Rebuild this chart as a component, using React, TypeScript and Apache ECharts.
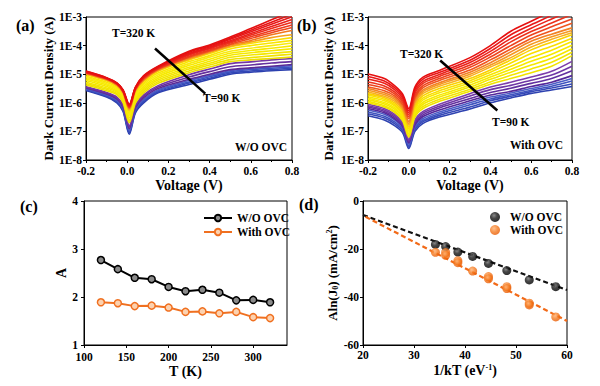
import React, { useEffect, useRef } from "react";
import * as echarts from "echarts";

// ---------- Panel (a)/(b): dark current density vs voltage (log10 of A) ----------
const TEMPS = [90, 100, 110, 120, 130, 140, 150, 160, 170, 180, 190, 200, 210, 220, 230, 240, 250, 260, 270, 280, 290, 300, 310, 320];

const VA = [-0.2, -0.1, -0.05, -0.02, 0.01, 0.04, 0.08, 0.15, 0.3, 0.4, 0.5, 0.6, 0.7, 0.8];
// rows: voltage, columns: curves from 90 K to 320 K (log10 of current density)
const A_LOG = [
  [-5.57, -5.55, -5.53, -5.51, -5.48, -5.46, -5.44, -5.38, -5.33, -5.28, -5.22, -5.17, -5.12, -5.07, -5.02, -4.99, -4.97, -4.96, -4.95, -4.94, -4.93, -4.92, -4.90, -4.89],
  [-5.80, -5.77, -5.75, -5.72, -5.69, -5.67, -5.64, -5.58, -5.53, -5.48, -5.43, -5.38, -5.33, -5.28, -5.23, -5.20, -5.18, -5.17, -5.16, -5.15, -5.14, -5.14, -5.13, -5.12],
  [-6.00, -5.97, -5.93, -5.90, -5.86, -5.83, -5.80, -5.72, -5.68, -5.63, -5.59, -5.55, -5.51, -5.46, -5.42, -5.39, -5.37, -5.35, -5.34, -5.33, -5.32, -5.32, -5.31, -5.30],
  [-6.30, -6.27, -6.23, -6.20, -6.15, -6.12, -6.08, -6.00, -5.95, -5.91, -5.86, -5.82, -5.77, -5.73, -5.68, -5.65, -5.63, -5.61, -5.60, -5.59, -5.58, -5.57, -5.56, -5.55],
  [-7.10, -7.05, -7.00, -6.95, -6.90, -6.85, -6.80, -6.70, -6.64, -6.59, -6.53, -6.47, -6.41, -6.36, -6.30, -6.25, -6.20, -6.17, -6.15, -6.13, -6.11, -6.09, -6.07, -6.05],
  [-6.35, -6.31, -6.26, -6.22, -6.17, -6.13, -6.08, -6.00, -5.95, -5.89, -5.84, -5.78, -5.73, -5.67, -5.62, -5.58, -5.55, -5.53, -5.52, -5.50, -5.49, -5.48, -5.46, -5.45],
  [-6.00, -5.96, -5.92, -5.88, -5.82, -5.77, -5.72, -5.65, -5.59, -5.54, -5.48, -5.42, -5.36, -5.31, -5.25, -5.22, -5.19, -5.16, -5.14, -5.12, -5.10, -5.09, -5.07, -5.05],
  [-5.65, -5.62, -5.58, -5.55, -5.50, -5.45, -5.40, -5.32, -5.26, -5.20, -5.14, -5.08, -5.02, -4.96, -4.90, -4.87, -4.84, -4.82, -4.80, -4.79, -4.77, -4.75, -4.74, -4.72],
  [-5.36, -5.31, -5.27, -5.22, -5.18, -5.10, -5.02, -4.95, -4.89, -4.82, -4.76, -4.69, -4.63, -4.56, -4.50, -4.47, -4.43, -4.40, -4.37, -4.33, -4.30, -4.27, -4.23, -4.20],
  [-5.18, -5.14, -5.09, -5.05, -5.00, -4.91, -4.82, -4.75, -4.68, -4.62, -4.55, -4.48, -4.41, -4.35, -4.28, -4.24, -4.21, -4.18, -4.15, -4.11, -4.08, -4.05, -4.01, -3.98],
  [-5.00, -4.96, -4.92, -4.88, -4.84, -4.74, -4.63, -4.56, -4.49, -4.41, -4.34, -4.27, -4.20, -4.12, -4.05, -4.02, -3.98, -3.95, -3.91, -3.87, -3.83, -3.78, -3.74, -3.70],
  [-4.93, -4.89, -4.84, -4.80, -4.78, -4.68, -4.57, -4.50, -4.42, -4.33, -4.25, -4.17, -4.09, -4.00, -3.92, -3.87, -3.82, -3.75, -3.69, -3.63, -3.58, -3.52, -3.46, -3.40],
  [-4.88, -4.84, -4.79, -4.75, -4.72, -4.61, -4.50, -4.45, -4.36, -4.27, -4.18, -4.09, -4.00, -3.91, -3.82, -3.72, -3.62, -3.55, -3.48, -3.40, -3.33, -3.25, -3.18, -3.10],
  [-4.84, -4.79, -4.75, -4.70, -4.66, -4.56, -4.45, -4.40, -4.30, -4.21, -4.11, -4.01, -3.91, -3.82, -3.72, -3.62, -3.47, -3.37, -3.28, -3.18, -3.09, -2.99, -2.90, -2.80],
];
const A_COLORS = [
  "#2b3fae", "#3347b6", "#3b50be", "#4a5cc6",
  "#5a2b96", "#66309e", "#7436a6",
  "#ecdf00", "#f0e300", "#f3e600", "#f5e800", "#f7ea00", "#f8ea10", "#f9e600", "#fadd00",
  "#f6a21c", "#f2781e",
  "#f04a1e", "#ee3a1e", "#ec2c1c", "#ea201a", "#e81818", "#e61414", "#e41010",
];

const VB = [-0.2, -0.12, -0.07, -0.03, 0, 0.03, 0.07, 0.15, 0.3, 0.4, 0.5, 0.6, 0.7, 0.8];
const B_LOG = [
  [-6.45, -6.38, -6.32, -6.25, -6.20, -6.15, -6.10, -6.05, -6.00, -5.95, -5.89, -5.84, -5.79, -5.73, -5.68, -5.62, -5.56, -5.50, -5.45, -5.36, -5.27, -5.17, -5.08, -4.99],
  [-6.60, -6.53, -6.47, -6.40, -6.35, -6.30, -6.25, -6.20, -6.15, -6.10, -6.04, -5.99, -5.93, -5.88, -5.82, -5.77, -5.71, -5.65, -5.58, -5.49, -5.41, -5.32, -5.24, -5.15],
  [-6.80, -6.73, -6.67, -6.60, -6.55, -6.50, -6.45, -6.40, -6.33, -6.28, -6.22, -6.17, -6.11, -6.06, -6.00, -5.94, -5.88, -5.82, -5.76, -5.69, -5.62, -5.54, -5.47, -5.40],
  [-7.05, -6.99, -6.94, -6.88, -6.83, -6.79, -6.74, -6.70, -6.63, -6.58, -6.52, -6.47, -6.41, -6.36, -6.30, -6.24, -6.19, -6.13, -6.06, -5.99, -5.92, -5.84, -5.77, -5.70],
  [-7.60, -7.55, -7.50, -7.45, -7.40, -7.36, -7.32, -7.28, -7.20, -7.14, -7.08, -7.03, -6.97, -6.91, -6.85, -6.78, -6.72, -6.65, -6.55, -6.48, -6.41, -6.34, -6.27, -6.20],
  [-7.00, -6.94, -6.88, -6.82, -6.76, -6.71, -6.65, -6.60, -6.50, -6.43, -6.37, -6.30, -6.23, -6.17, -6.10, -6.02, -5.96, -5.90, -5.82, -5.75, -5.67, -5.60, -5.52, -5.45],
  [-6.72, -6.66, -6.61, -6.55, -6.48, -6.42, -6.36, -6.30, -6.20, -6.13, -6.05, -5.98, -5.90, -5.83, -5.75, -5.67, -5.61, -5.55, -5.47, -5.40, -5.32, -5.25, -5.17, -5.10],
  [-6.50, -6.44, -6.38, -6.32, -6.25, -6.18, -6.12, -6.05, -5.95, -5.88, -5.80, -5.73, -5.65, -5.58, -5.50, -5.42, -5.36, -5.30, -5.22, -5.15, -5.08, -5.01, -4.94, -4.87],
  [-6.22, -6.15, -6.07, -6.00, -5.93, -5.85, -5.76, -5.68, -5.60, -5.53, -5.45, -5.38, -5.30, -5.23, -5.15, -5.07, -5.00, -4.93, -4.85, -4.76, -4.68, -4.59, -4.51, -4.42],
  [-6.00, -5.93, -5.87, -5.80, -5.73, -5.64, -5.54, -5.45, -5.35, -5.27, -5.18, -5.10, -5.02, -4.93, -4.85, -4.75, -4.68, -4.60, -4.50, -4.40, -4.30, -4.20, -4.10, -4.00],
  [-5.83, -5.77, -5.72, -5.66, -5.60, -5.49, -5.39, -5.28, -5.15, -5.04, -4.93, -4.83, -4.72, -4.61, -4.50, -4.42, -4.32, -4.22, -4.12, -4.00, -3.87, -3.75, -3.62, -3.50],
  [-5.67, -5.61, -5.56, -5.50, -5.43, -5.32, -5.21, -5.10, -4.95, -4.82, -4.68, -4.55, -4.42, -4.28, -4.15, -4.05, -3.95, -3.85, -3.75, -3.63, -3.51, -3.39, -3.27, -3.15],
  [-5.55, -5.48, -5.42, -5.35, -5.28, -5.15, -5.03, -4.90, -4.72, -4.58, -4.44, -4.30, -4.16, -4.02, -3.88, -3.78, -3.69, -3.60, -3.48, -3.34, -3.21, -3.07, -2.94, -2.80],
  [-5.43, -5.34, -5.24, -5.15, -5.05, -4.88, -4.72, -4.55, -4.35, -4.23, -4.11, -3.99, -3.86, -3.74, -3.62, -3.55, -3.47, -3.38, -3.22, -3.07, -2.91, -2.76, -2.60, -2.45],
];
const B_COLORS = [
  "#2e42b0", "#3649b8", "#3f53bf", "#4b5dc6",
  "#55289a", "#62309f", "#6f37a5", "#7c3eab",
  "#f0e200", "#f3e600", "#f5e800", "#f7ea00", "#f8e700", "#f9df00", "#fad200",
  "#f8b020", "#f59a22", "#f28224",
  "#f0561e", "#ee441e", "#ec321c", "#ea221a", "#e81818", "#e61010",
];

// arrows (data coordinates): start, end
const A_ARROW = [[0.135, 7.9e-5], [0.379, 2.1e-6]];
const B_ARROW = [[0.154, 3.0e-5], [0.434, 5.4e-7]];

// ---------- Panel (c): ideality factor A vs T ----------
const C_T = [120, 140, 160, 180, 200, 220, 240, 260, 280, 300, 320];
const C_WO = [2.77, 2.58, 2.40, 2.37, 2.21, 2.12, 2.15, 2.09, 1.93, 1.94, 1.89];
const C_WITH = [1.89, 1.87, 1.81, 1.82, 1.78, 1.69, 1.70, 1.66, 1.69, 1.58, 1.56];

// ---------- Panel (d): A ln(J0) vs 1/kT ----------
const D_X_WO = [34.2, 36.2, 38.6, 41.5, 44.6, 48.2, 52.6, 57.8];
const D_Y_WO = [-18.1, -19.0, -21.3, -23.1, -26.0, -29.0, -32.9, -35.7];
const D_X_WITH = [34.2, 36.2, 36.2, 38.6, 38.6, 41.5, 44.6, 44.6, 48.2, 48.2, 52.6, 52.6, 57.8];
const D_Y_WITH = [-21.4, -21.5, -22.6, -24.9, -25.7, -29.2, -31.5, -32.4, -35.7, -36.5, -42.6, -43.3, -48.3];
const D_FIT_WO_X = [20, 60];
const D_FIT_WO_Y = [-5.8, -37.1];
const D_FIT_WITH_X = [20.5, 60];
const D_FIT_WITH_Y = [-6.6, -50.0];

const FONT = '"Liberation Serif", "Times New Roman", serif';
const TXT = { fontFamily: FONT, fontWeight: "bold" as const, color: "#000" };

function ivSeries(V: number[], LOG: number[][], colors: string[], axis: number, arrow: number[][]) {
  return TEMPS.map((t, i) => {
    const s: any = {
      type: "line",
      name: `${t} K ${axis}`,
      xAxisIndex: axis,
      yAxisIndex: axis,
      data: V.map((v, k) => [v, Math.pow(10, LOG[k][i])]),
      showSymbol: false,
      symbol: "none",
      smooth: 0.3,
      silent: true,
      lineStyle: { color: colors[i], width: 1.6 },
      z: 2,
    };
    if (i === TEMPS.length - 1) {
      s.markLine = {
        silent: true,
        symbol: ["none", "arrow"],
        symbolSize: [0, 10],
        label: { show: false },
        lineStyle: { color: "#000", width: 2.5, type: "solid" },
        data: [[{ coord: arrow[0] }, { coord: arrow[1] }]],
        z: 10,
      };
    }
    return s;
  });
}

function ivAxes(idx: number) {
  const x = {
    type: "value",
    gridIndex: idx,
    min: -0.2,
    max: 0.8,
    interval: 0.2,
    name: "Voltage (V)",
    nameLocation: "middle",
    nameGap: 18,
    nameTextStyle: { ...TXT, fontSize: 14 },
    axisLine: { onZero: false, lineStyle: { color: "#000", width: 1 } },
    axisTick: { length: 3, lineStyle: { color: "#000" } },
    minorTick: { show: true, splitNumber: 2, length: 2, lineStyle: { color: "#000" } },
    splitLine: { show: false },
    axisLabel: {
      ...TXT,
      fontSize: 11.5,
      margin: 5,
      formatter: (v: number) => (Math.abs(v) < 1e-9 ? "0.0" : v.toFixed(1)),
    },
  };
  const y = {
    type: "log",
    gridIndex: idx,
    logBase: 10,
    min: 1e-8,
    max: 1e-3,
    name: "Dark Current Density (A)",
    nameLocation: "middle",
    nameGap: idx === 0 ? 29 : 33,
    nameRotate: 90,
    nameTextStyle: { ...TXT, fontSize: 13 },
    axisLine: { show: true, onZero: false, lineStyle: { color: "#000", width: 1 } },
    axisTick: { show: true, length: 3, lineStyle: { color: "#000" } },
    splitLine: { show: false },
    axisLabel: {
      ...TXT,
      fontSize: 11.5,
      margin: 4,
      formatter: (v: number) => "1E" + Math.round(Math.log10(v)),
    },
  };
  return { x, y };
}

export default function App() {
  const ref = useRef<HTMLDivElement>(null);
  useEffect(() => {
    if (!ref.current) return;
    const chart = echarts.init(ref.current, undefined, { renderer: "svg" });
    const a = ivAxes(0);
    const b = ivAxes(1);

    const blackBall = new echarts.graphic.RadialGradient(0.4, 0.35, 0.6, [
      { offset: 0, color: "#6e6e6e" },
      { offset: 0.5, color: "#1a1a1a" },
      { offset: 1, color: "#000" },
    ]);
    const orangeBall = new echarts.graphic.RadialGradient(0.4, 0.35, 0.6, [
      { offset: 0, color: "#ffb070" },
      { offset: 0.6, color: "#f47a20" },
      { offset: 1, color: "#ea6008" },
    ]);

    const option: any = {
      animation: false,
      backgroundColor: "#fff",
      grid: [
        { left: 86, top: 17, width: 206, height: 143, show: true, borderColor: "#000", borderWidth: 1 },
        { left: 368, top: 17, width: 204, height: 143, show: true, borderColor: "#000", borderWidth: 1 },
        { left: 84, top: 201, width: 203, height: 144, show: true, borderColor: "#000", borderWidth: 1 },
        { left: 363, top: 201, width: 204, height: 144, show: true, borderColor: "#000", borderWidth: 1 },
      ],
      xAxis: [
        a.x,
        b.x,
        {
          type: "value",
          gridIndex: 2,
          min: 100,
          max: 340,
          interval: 50,
          name: "T (K)",
          nameLocation: "middle",
          nameGap: 19,
          nameTextStyle: { ...TXT, fontSize: 14 },
          axisLine: { onZero: false, lineStyle: { color: "#000" } },
          axisTick: { length: 3, lineStyle: { color: "#000" } },
          splitLine: { show: false },
          axisLabel: { ...TXT, fontSize: 11.5, margin: 6, showMaxLabel: false },
        },
        {
          type: "value",
          gridIndex: 3,
          min: 20,
          max: 60,
          interval: 10,
          name: "{a|1/kT (eV}{p|-1}{a|)}",
          nameLocation: "middle",
          nameGap: 18,
          nameTextStyle: {
            ...TXT,
            fontSize: 14,
            rich: {
              a: { ...TXT, fontSize: 14 },
              p: { ...TXT, fontSize: 8, verticalAlign: "top", padding: [0, 0, 6, 0] },
            },
          },
          axisLine: { onZero: false, lineStyle: { color: "#000" } },
          axisTick: { length: 3, lineStyle: { color: "#000" } },
          splitLine: { show: false },
          axisLabel: { ...TXT, fontSize: 11.5, margin: 4 },
        },
      ],
      yAxis: [
        a.y,
        b.y,
        {
          type: "value",
          gridIndex: 2,
          min: 1,
          max: 4,
          interval: 1,
          name: "A",
          nameLocation: "middle",
          nameGap: 14,
          nameRotate: 90,
          nameTextStyle: { ...TXT, fontSize: 14 },
          axisLine: { onZero: false, lineStyle: { color: "#000" } },
          axisTick: { length: 3, lineStyle: { color: "#000" } },
          splitLine: { show: false },
          axisLabel: { ...TXT, fontSize: 11.5, margin: 6 },
        },
        {
          type: "value",
          gridIndex: 3,
          min: -60,
          max: 0,
          interval: 20,
          name: "{a|Aln(J}{s|0}{a|) (mA/cm}{p|2}{a|)}",
          nameLocation: "middle",
          nameGap: 21,
          nameRotate: 90,
          nameTextStyle: {
            ...TXT,
            fontSize: 13,
            rich: {
              a: { ...TXT, fontSize: 13 },
              s: { ...TXT, fontSize: 8, verticalAlign: "bottom", padding: [6, 0, 0, 0] },
              p: { ...TXT, fontSize: 8, verticalAlign: "top", padding: [0, 0, 6, 0] },
            },
          },
          axisLine: { onZero: false, lineStyle: { color: "#000" } },
          axisTick: { length: 3, lineStyle: { color: "#000" } },
          splitLine: { show: false },
          axisLabel: { ...TXT, fontSize: 11.5, margin: 4 },
        },
      ],
      legend: [
        {
          left: 198,
          top: 207,
          orient: "vertical",
          itemWidth: 28,
          itemHeight: 8,
          itemGap: 2,
          data: ["W/O OVC", "With OVC"],
          textStyle: { ...TXT, fontSize: 11.5 },
          selectedMode: false,
        },
        {
          left: 485,
          top: 206,
          orient: "vertical",
          itemWidth: 20,
          itemHeight: 10,
          itemGap: 1,
          data: ["W/O OVC (d)", "With OVC (d)"],
          formatter: (n: string) => n.replace(" (d)", ""),
          textStyle: { ...TXT, fontSize: 11.5 },
          selectedMode: false,
        },
      ],
      series: [
        ...ivSeries(VA, A_LOG, A_COLORS, 0, A_ARROW),
        ...ivSeries(VB, B_LOG, B_COLORS, 1, B_ARROW),
        {
          type: "line",
          name: "W/O OVC",
          xAxisIndex: 2,
          yAxisIndex: 2,
          data: C_T.map((t, i) => [t, C_WO[i]]),
          symbol: "circle",
          symbolSize: 7,
          lineStyle: { color: "#000", width: 2 },
          itemStyle: { color: "#8a8a8a", borderColor: "#000", borderWidth: 1.5 },
        },
        {
          type: "line",
          name: "With OVC",
          xAxisIndex: 2,
          yAxisIndex: 2,
          data: C_T.map((t, i) => [t, C_WITH[i]]),
          symbol: "circle",
          symbolSize: 7,
          lineStyle: { color: "#f07020", width: 2 },
          itemStyle: { color: "#fcd2b0", borderColor: "#f07020", borderWidth: 1.5 },
        },
        {
          type: "line",
          name: "fit W/O",
          xAxisIndex: 3,
          yAxisIndex: 3,
          data: D_FIT_WO_X.map((x, i) => [x, D_FIT_WO_Y[i]]),
          showSymbol: false,
          symbol: "none",
          lineStyle: { color: "#111", width: 2.2, type: [5, 3] },
          z: 1,
        },
        {
          type: "line",
          name: "fit With",
          xAxisIndex: 3,
          yAxisIndex: 3,
          data: D_FIT_WITH_X.map((x, i) => [x, D_FIT_WITH_Y[i]]),
          showSymbol: false,
          symbol: "none",
          lineStyle: { color: "#f26a18", width: 2.2, type: [5, 3] },
          z: 1,
        },
        {
          type: "scatter",
          name: "W/O OVC (d)",
          xAxisIndex: 3,
          yAxisIndex: 3,
          data: D_X_WO.map((x, i) => [x, D_Y_WO[i]]),
          symbol: "circle",
          symbolSize: 9,
          itemStyle: { color: blackBall },
          z: 3,
        },
        {
          type: "scatter",
          name: "With OVC (d)",
          xAxisIndex: 3,
          yAxisIndex: 3,
          data: D_X_WITH.map((x, i) => [x, D_Y_WITH[i]]),
          symbol: "circle",
          symbolSize: 9,
          itemStyle: { color: orangeBall },
          z: 3,
        },
      ],
      graphic: [
        { type: "text", left: 16, top: 17, style: { ...TXT, text: "(a)", fontSize: 16, fill: "#000" } },
        { type: "text", left: 297, top: 17, style: { ...TXT, text: "(b)", fontSize: 16, fill: "#000" } },
        { type: "text", left: 20, top: 198, style: { ...TXT, text: "(c)", fontSize: 16, fill: "#000" } },
        { type: "text", left: 299, top: 196, style: { ...TXT, text: "(d)", fontSize: 16, fill: "#000" } },
        { type: "text", left: 112, top: 27, style: { ...TXT, text: "T=320 K", fontSize: 11.5, fill: "#000" } },
        { type: "text", left: 203, top: 92, style: { ...TXT, text: "T=90 K", fontSize: 11.5, fill: "#000" } },
        { type: "text", left: 235, top: 141, style: { ...TXT, text: "W/O OVC", fontSize: 11.5, fill: "#000" } },
        { type: "text", left: 400, top: 48, style: { ...TXT, text: "T=320 K", fontSize: 11.5, fill: "#000" } },
        { type: "text", left: 492, top: 116, style: { ...TXT, text: "T=90 K", fontSize: 11.5, fill: "#000" } },
        { type: "text", left: 510, top: 139, style: { ...TXT, text: "With OVC", fontSize: 11.5, fill: "#000" } },
      ],
    };
    chart.setOption(option);
    return () => chart.dispose();
  }, []);
  return (
    <div
      ref={ref}
      style={{ position: "fixed", left: 0, top: 0, width: 600, height: 386, background: "#fff" }}
    />
  );
}
